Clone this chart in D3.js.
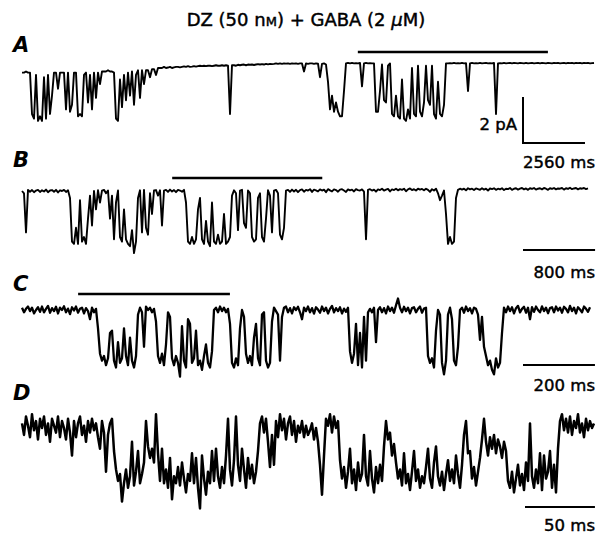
<!DOCTYPE html>
<html>
<head>
<meta charset="utf-8">
<script src="https://cdn.jsdelivr.net/npm/d3@7"></script>
<style>
  body { margin: 0; background: #fff; }
  text { font-family: "DejaVu Sans", sans-serif; fill: #000; stroke: #000; stroke-width: 0.45px; }
</style>
</head>
<body>
<div id="fig"></div>
<script>
// current (pA, closed level = 0, openings negative), one sample every sampleMs
var traceA = [
  -0.2,-0.2,-0.15,-0.2,-0.2,-2.0,-2.2,-0.3,-2.3,-2.1,
  -2.3,-0.4,-2.2,-0.3,-2.0,-1.2,-0.2,-0.2,-0.9,-0.2,
  -0.2,-0.2,-1.8,-0.2,-1.9,-1.6,-0.2,-0.2,-2.1,-2.0,
  -2.1,-0.3,-0.2,-1.5,-0.3,-1.8,-0.2,-1.3,-0.2,-0.7,
  -0.15,-0.15,-0.15,-0.1,-0.15,-0.15,-0.2,-2.2,-2.3,-0.5,
  -1.7,-0.3,-1.4,-0.2,-1.2,-0.15,-1.6,-0.3,-0.1,-1.3,
  -0.1,-0.7,-0.1,-0.1,-0.4,-0.05,-0.05,-0.3,0,0,
  0,0.05,0,0.02,0.05,0,0.03,0.05,0.05,0.03,
  0.05,0.07,0.05,0.08,0.05,0.06,0.08,0.06,0.08,0.1,
  0.08,0.1,0.08,0.1,0.1,0.08,0.1,0.12,0.1,0.1,
  0.12,0.1,0.12,0.1,-2.0,0.12,0.12,0.1,0.14,0.12,
  0.14,0.15,0.12,0.15,0.14,0.15,0.13,0.15,0.17,0.15,
  0.17,0.15,0.18,0.16,0.18,0.17,0.18,0.2,0.18,0.2,
  0.18,0.2,0.19,0.2,0.18,0.2,0.19,0.2,0.18,0.2,
  0.2,-0.15,0.2,0.18,0.2,0.2,0.18,0.2,0.19,-0.4,
  0.18,0.2,0.15,-0.6,-1.8,-1.2,-1.9,-1.5,-1.9,-2.1,
  -2.1,-1.0,0.2,0.22,0.2,0.22,0.2,0.21,0.2,0.22,
  -0.8,0.2,0.22,0.2,0.21,0.2,0.2,-1.9,-1.9,-1.0,
  0.15,-1.4,-1.5,0.1,0.2,-2.0,-2.1,-1.2,-2.1,-2.2,
  -0.5,-2.2,-2.3,-1.8,-2.2,0.0,-2.0,-2.1,0.1,-1.9,
  -2.1,-1.5,0.1,-1.4,-1.6,0.1,-2.0,-2.2,-0.6,-2.0,
  -2.1,-1.6,0.2,0.2,0.21,0.2,0.22,0.2,0.21,0.2,
  0.22,0.2,0.21,-1.0,0.2,0.22,0.2,0.21,0.2,0.22,
  0.2,0.21,0.22,0.2,0.21,0.2,0.22,-2.0,0.2,0.21,
  0.2,0.22,0.2,0.21,0.22,0.2,0.22,0.21,0.2,0.22,
  0.21,0.2,0.22,0.2,0.21,0.22,0.2,0.21,0.22,0.2,
  0.22,0.21,0.2,0.22,0.21,0.2,0.22,0.21,0.22,0.2,
  0.21,0.22,0.2,0.22,0.21,0.22,0.2,0.22,0.21,0.22,
  0.2,0.22,0.21,0.22,0.2,0.21,0.22
];
var traceB = [
  0,-0.1,-1.8,0.05,-0.03,0.04,-0.05,0.02,0.05,-0.04,
  0.03,-0.02,0.06,-0.05,0.02,0.04,-0.03,0.05,-0.06,0.03,
  0,0.05,-0.04,0.03,-0.3,-2.2,-2.3,-1.6,-2.3,-0.4,
  -2.2,-2.0,-2.3,-1.2,-0.2,-1.5,0,-0.8,0.03,-0.5,
  0.02,0.05,-0.1,0.02,-1.2,-0.2,-2.1,-0.5,0.02,-2.0,
  -2.2,-0.8,-2.1,-2.3,-2.4,-1.7,-2.7,-2.2,-0.3,0.03,
  -1.8,0.05,-1.6,-1.9,-0.1,-1.0,0.02,0.04,-0.2,0.03,
  -1.5,0.02,0.05,-0.04,0.06,-0.02,0.04,-0.05,0.05,0.02,
  -0.03,0.05,-0.5,-2.2,-2.3,-2.0,-2.3,-2.1,-0.8,-0.3,
  -2.1,-2.3,-1.3,-2.2,-2.4,-0.5,-2.2,-2.3,-1.9,-2.3,
  -2.2,-1.0,-2.3,-2.2,-2.0,-0.2,0.03,-0.1,-1.7,0.02,
  0.05,-1.4,-1.6,0.02,-0.1,-2.0,-2.2,-2.1,-0.3,-0.1,
  -2.0,-2.2,-1.2,0.03,-0.2,-1.8,0.02,0.05,-0.1,-1.9,
  -2.1,-1.6,0.02,0.05,-0.04,0.06,-0.02,0.05,-0.05,0.04,
  0.07,-0.03,0.05,0.02,0.08,-0.04,0.06,0.03,-0.02,0.07,
  0.02,0.06,-0.05,0.08,0.03,-0.02,0.07,0.04,-0.03,0.06,
  0.08,0.02,-0.04,0.07,0.03,0.06,-0.02,0.08,0.04,0.02,
  0.07,-0.03,-2.1,0.05,0.08,0.02,0.06,-0.03,0.07,0.04,
  0.1,0.02,0.06,0.09,-0.02,0.07,0.04,0.1,0.03,0.08,
  0.05,0.1,-0.01,0.07,0.11,0.04,0.08,0.02,0.1,0.06,
  0.09,0.03,0.1,0.05,-0.04,0.08,0.02,0.1,-0.1,-0.4,
  -0.2,0.02,-1.0,-2.3,-2.0,-2.3,-2.2,-0.3,0.05,0.1,
  0.06,0.1,0.03,0.12,0.07,0.1,0.04,0.11,0.08,0.05,
  0.12,0.06,0.1,0.02,0.11,0.08,0.12,0.05,0.1,0.07,
  0.12,0.04,0.1,0.08,0.13,0.05,0.1,0.12,0.06,0.1,
  0.13,0.07,0.11,0.05,0.12,0.09,0.13,0.06,0.1,0.12,
  0.07,0.13,0.1,0.05,0.12,0.09,0.13,0.07,0.11,0.1,
  0.13,0.06,0.12,0.09,0.14,0.08,0.11,0.13,0.07,0.12,
  0.1,0.13,0.08,0.11
];
var traceC = [
  0.1,-0.1,0.05,0.15,-0.05,0.1,-0.15,0,0.12,-0.08,
  0.15,-0.1,0.05,0.18,-0.12,0.08,-0.05,0.14,-0.15,0.1,
  0,0.16,-0.1,0.06,-0.18,0.12,-0.02,0.15,-0.12,0.05,
  0.1,-0.15,0.08,-0.05,-0.4,0.1,-0.1,0.05,-0.8,-1.9,
  -2.2,-2.0,-2.4,-2.1,-1.0,-0.9,-2.2,-2.5,-1.4,-2.3,
  -2.1,-0.8,-2.0,-2.4,-1.2,-2.2,-2.5,-2.0,-0.2,0.1,
  -0.1,-1.6,0.15,0,0.1,-0.1,0.05,-0.5,-2.0,-2.3,
  -1.9,-2.4,-1.5,-0.1,-0.3,-2.1,-2.4,-2.0,-2.3,-2.9,
  -0.7,-2.2,-2.5,-0.4,-0.6,-2.3,-2.1,-0.9,-2.4,-2.2,
  -2.6,-2.0,-1.5,-2.3,-2.5,-1.8,0,0.1,-0.1,0.15,
  -0.05,0.1,-0.1,0.05,-0.6,-2.3,-2.5,-2.1,-2.4,-0.8,
  0,-0.3,-1.9,-2.3,-2.0,-2.4,-1.2,-0.6,-2.1,-2.4,
  -0.2,-0.1,-2.2,-2.5,-2.3,-0.5,0.1,-0.05,-0.2,-2.2,
  -0.3,0.1,0.15,-0.1,0.08,-0.15,0.12,0,0.14,-0.1,
  -0.4,0.1,-0.05,0.15,-0.1,0.08,-0.16,0.12,0.02,-0.12,
  0.15,-0.05,0.1,-0.15,0.05,0.18,-0.1,0.08,-0.05,0.12,
  -0.15,0.06,-0.08,0.1,-1.8,-2.3,-1.9,-0.6,-2.4,-1.0,
  -2.5,-0.3,-2.2,-0.1,0.05,-0.1,0.1,-1.4,0,0.12,
  -0.1,0.08,-0.15,0.15,-0.05,0.1,-0.12,0.2,0.5,0.1,
  -0.1,0.14,-0.05,0.1,-0.15,0.08,0.12,-0.1,0.05,0.15,
  -0.12,0.06,0.1,-2.0,-2.3,-2.1,-2.5,-0.9,0,-0.2,
  -2.3,-2.8,-2.2,-0.2,0.1,-0.4,-2.2,-2.4,-1.6,0,
  0.1,-0.12,0.15,-0.05,0.08,-0.15,0.1,0.05,-0.2,-1.3,
  -0.3,-1.6,-2.0,-2.4,-2.2,-2.6,-2.8,-2.1,-2.5,-2.3,
  -1.0,0.1,-0.1,0.15,-0.05,0.12,-0.15,0.08,0.18,-0.1,
  0.05,0.14,-0.12,0.1,-0.4,0.12,-0.08,0.15,0,-0.1,
  0.16,-0.05,0.1,-0.14,0.08,0.12,-0.1,0.15,-0.02,0.1,
  -0.12,0.14,0.05,-0.1,0.18,-0.05,0.1,-0.15,0.12,0.02,
  -0.1,0.15,0.05,-0.08,0.12
];
var traceD = [
  0.2,-0.3,0.5,0.1,-0.4,0.6,-0.1,0.3,-0.5,0.4,
  0.0,0.5,-0.3,0.2,-0.6,0.4,0.1,-0.2,0.5,-0.4,
  0.3,0.0,-0.5,0.4,-0.2,-1.2,0.3,-0.4,0.2,0.5,
  -0.3,0.1,-0.6,0.3,-0.2,0.4,-0.1,0.2,-0.4,-0.9,
  0.3,-0.2,-1.9,-0.3,0.2,0.4,-1.0,-1.8,-2.3,-2.0,
  -3.2,-2.4,-1.8,-2.6,-2.1,-0.6,-2.5,-1.9,-1.0,-2.4,
  -2.0,-1.5,0.3,-0.8,-1.3,-0.9,-1.5,0.6,-1.1,-2.3,
  -0.9,-2.4,-1.8,-2.6,-1.3,-3.1,-2.1,-2.4,-1.7,-2.5,
  -1.5,-2.2,-2.8,-2.0,-2.3,-1.1,-2.4,-1.3,-2.6,-3.5,
  -1.2,-2.2,-2.9,-1.9,-2.4,-1.0,-2.3,-0.9,-2.1,-2.6,
  -1.7,-2.4,-1.2,0.4,-1.8,-2.5,-1.4,0.5,-1.6,-2.3,
  -0.9,-1.8,-2.6,-1.3,-2.2,-1.6,-2.4,-1.9,-1.0,0.2,
  0.5,-0.2,0.4,-0.6,-1.7,-0.3,-1.6,0.3,-0.4,0.6,
  -0.1,0.4,-0.5,0.2,0.5,-0.3,0.3,-0.6,0.1,-0.2,
  0.3,-0.4,0.1,-0.3,-0.1,0.2,-0.5,0.0,-0.6,-1.6,
  -2.9,-1.2,0.4,0.1,0.6,-0.2,0.5,0.0,0.3,-1.4,
  -2.2,-1.7,-2.6,-1.9,-0.9,-2.4,-1.8,-2.7,-1.5,-2.3,
  -2.0,-0.3,-2.1,-2.5,-1.0,-2.2,-2.8,-1.7,-2.4,-1.6,
  -2.3,-0.8,0.3,-0.5,-0.2,-1.2,-0.7,-1.5,-2.2,-1.8,
  -2.5,-1.1,-2.4,-2.0,-2.7,-1.9,-1.0,-2.3,-1.8,-2.6,
  -2.1,-2.4,-1.7,-0.9,-2.2,-2.6,-1.5,-0.8,-2.1,-2.5,
  -1.9,-2.7,-2.0,-1.4,-2.3,-1.8,-2.4,-1.2,-2.0,-2.6,
  -1.6,-0.3,0.3,-1.1,-1.0,-2.2,-1.7,-2.5,-1.9,-1.3,
  -0.5,0.4,-0.6,-1.2,-0.4,-0.9,-0.3,-1.1,-0.5,-0.8,
  -1.3,-0.6,-1.0,-2.3,-2.6,-1.9,-2.8,-2.2,-1.6,-2.5,
  -2.0,-2.7,-1.5,-2.3,0.2,-2.1,-2.6,-1.8,-2.4,-1.1,
  -2.7,-1.2,-2.2,-1.9,-1.0,-2.6,-1.6,-2.8,-0.9,0.3,
  0.6,-0.1,0.4,-0.2,0.5,-0.3,0.3,0.0,0.6,-0.2,
  0.2,-0.4,0.4,-0.1,0.3,0.0,0.2
];

var traces = [traceA, traceB, traceC, traceD];
var panelNames = ["A", "B", "C", "D"];
var sampleMs = [82.6, 22.2, 5.56, 1.43];        // sampling interval of each sweep
var scaleBarMs = [2560, 800, 200, 50];
var scaleBarText = ["2560 ms", "800 ms", "200 ms", "50 ms"];
var expandedMs = [[13870, 21720], [1667, 3333], [156, 578], null]; // part shown in next trace
var currentBarPA = 2;

var width = 598, height = 535;
var left = 22, right = 594, nSweep = 286;
var closedY = [68, 191, 310, 428];
var lineW = [1.9, 1.9, 2.3, 2.5];
var letterY = [52, 167, 291, 400];
var markY = [52, 178, 294];
var barY = [143, 250, 365, 507];
var barX = [523, 523, 523, 525];
var barLabelY = [168, 278, 391, 531];
var pxPerPA = 23;

var svg = d3.select("#fig").append("svg")
    .attr("width", width)
    .attr("height", height);

var title = svg.append("text")
    .attr("x", 306)
    .attr("y", 26)
    .attr("text-anchor", "middle")
    .attr("font-size", 18);
title.append("tspan").text("DZ (50 n");
title.append("tspan").attr("font-size", 13).text("M");
title.append("tspan").text(") + GABA (2 ");
title.append("tspan").attr("font-style", "italic").text("\u03bc");
title.append("tspan").text("M)");

traces.forEach(function(vals, i) {
  var x = d3.scaleLinear()
      .domain([0, nSweep * sampleMs[i]])
      .range([left, right]);
  var y = d3.scaleLinear()
      .domain([0, -currentBarPA])
      .range([closedY[i], closedY[i] + currentBarPA * pxPerPA]);

  var line = d3.line()
      .x(function(d, j) { return x(j * sampleMs[i]); })
      .y(function(d) { return y(d); });

  svg.append("path")
      .datum(vals)
      .attr("d", line)
      .attr("fill", "none")
      .attr("stroke", "#000")
      .attr("stroke-width", lineW[i])
      .attr("stroke-linejoin", "round");

  svg.append("text")
      .attr("x", 13)
      .attr("y", letterY[i])
      .attr("font-family", "Liberation Sans, Arial, sans-serif")
      .attr("font-weight", "bold")
      .attr("font-style", "italic")
      .attr("font-size", 21)
      .style("stroke-width", 0)
      .text(panelNames[i]);

  // bar over the stretch expanded below
  if (expandedMs[i]) {
    svg.append("line")
        .attr("x1", x(expandedMs[i][0]))
        .attr("x2", x(expandedMs[i][1]))
        .attr("y1", markY[i])
        .attr("y2", markY[i])
        .attr("stroke", "#000")
        .attr("stroke-width", 2.5);
  }

  // time scale bar
  var barLen = x(scaleBarMs[i]) - x(0);
  svg.append("line")
      .attr("x1", barX[i])
      .attr("x2", barX[i] + barLen)
      .attr("y1", barY[i])
      .attr("y2", barY[i])
      .attr("stroke", "#000")
      .attr("stroke-width", 2);

  svg.append("text")
      .attr("x", 595)
      .attr("y", barLabelY[i])
      .attr("text-anchor", "end")
      .attr("font-size", 16.5)
      .text(scaleBarText[i]);

  if (i == 0) {
    var h = y(-currentBarPA) - y(0);
    svg.append("line")
        .attr("x1", barX[i])
        .attr("x2", barX[i])
        .attr("y1", barY[i] + 1)
        .attr("y2", barY[i] - h)
        .attr("stroke", "#000")
        .attr("stroke-width", 2);
    svg.append("text")
        .attr("x", 517)
        .attr("y", 130)
        .attr("text-anchor", "end")
        .attr("font-size", 16.5)
        .text(currentBarPA + " pA");
  }
});
</script>
</body>
</html>
